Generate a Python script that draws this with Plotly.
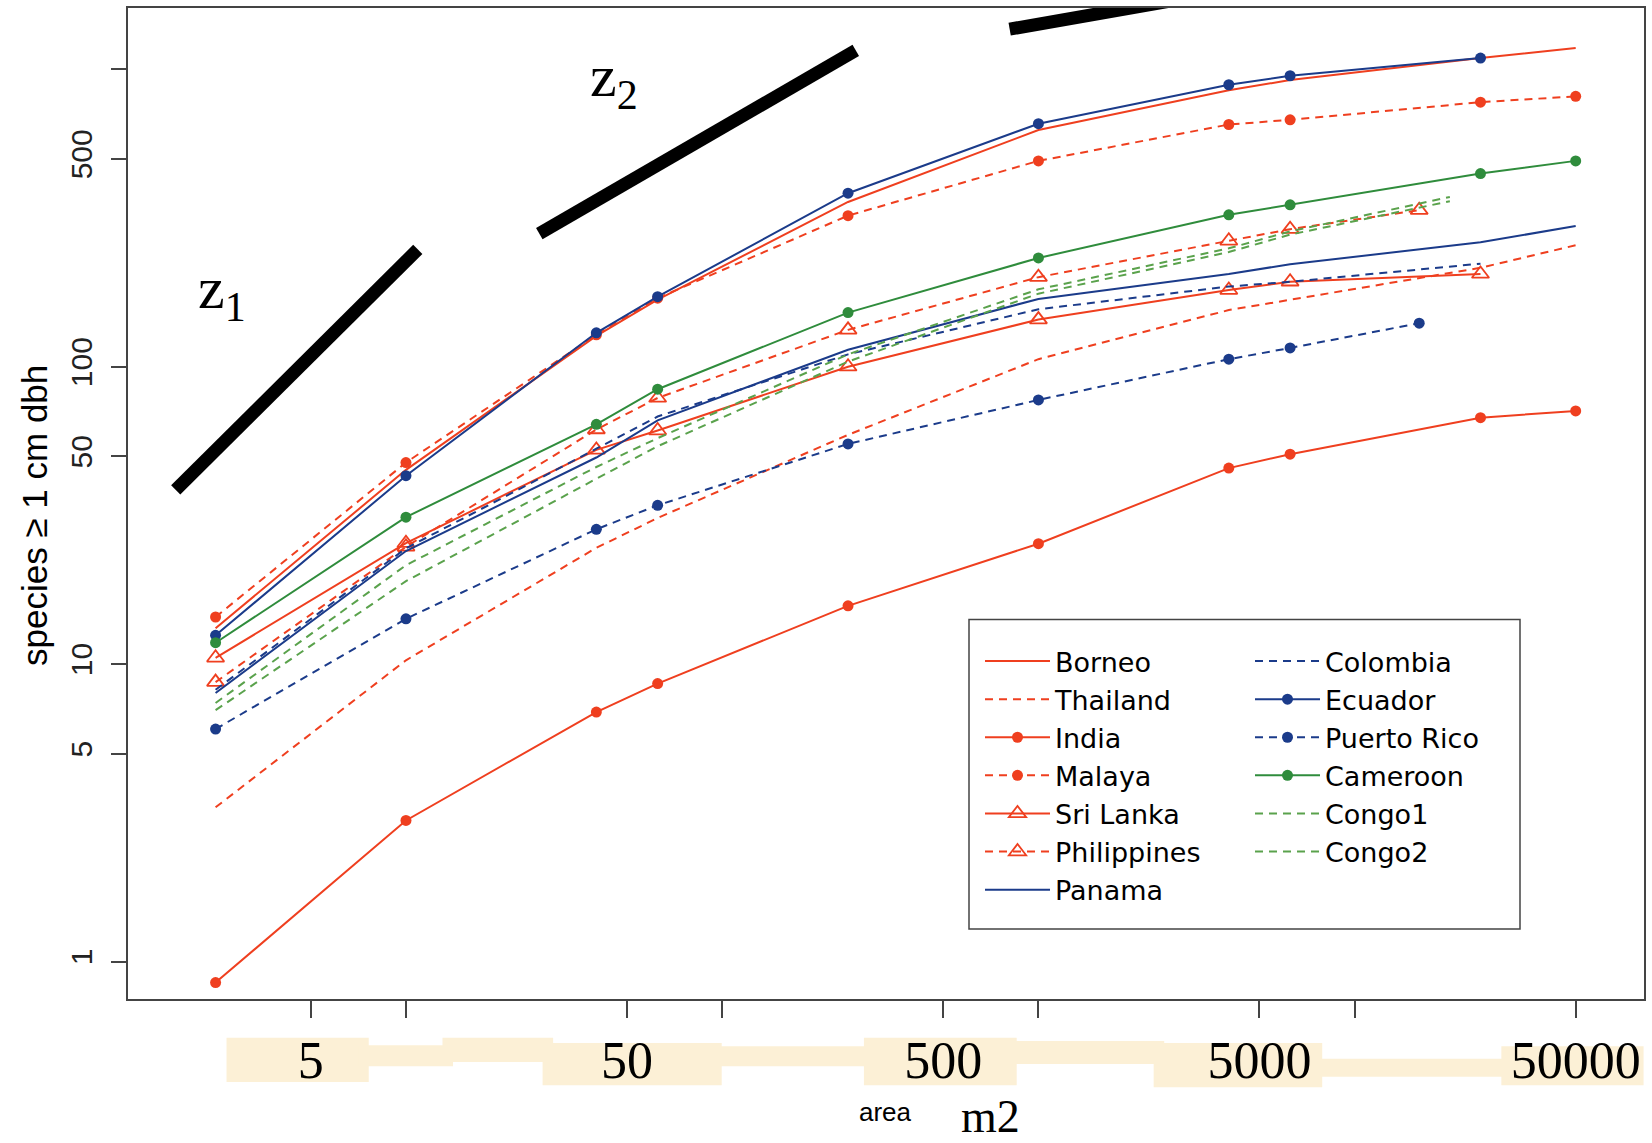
import math
import plotly.graph_objects as go

# ---------------- data ----------------
AREA = [2.5, 10, 40, 62.5, 250, 1000, 4000, 6250, 25000, 50000]
AREA_25K = [2.5, 10, 40, 62.5, 250, 1000, 4000, 6250, 25000]
AREA_16K = [2.5, 10, 40, 62.5, 250, 1000, 4000, 6250, 16000]
AREA_20K = [2.5, 10, 40, 62.5, 250, 1000, 4000, 6250, 20000]

borneo = [13.2, 45, 127, 168, 358, 625, 850, 920, 1091, 1178]
thailand = [3.3, 10.3, 24.6, 31.0, 59, 106, 155, 168, 215, 256]
india = [0.85, 2.98, 6.9, 8.6, 15.7, 25.4, 45.6, 50.8, 67.4, 71]
malaya = [14.4, 47.6, 128, 170, 322, 492, 652, 676, 775, 811]
sri_lanka = [10.5, 25.5, 52.5, 61, 100, 144, 181, 193, 205]
philippines = [8.7, 24.8, 61.5, 78.5, 133, 200, 265, 290, 336]
panama = [8.0, 24.0, 49.5, 66, 114, 169, 205, 221, 262, 297]
colombia = [8.2, 24.5, 53, 68, 110, 156, 186, 193, 222]
ecuador = [12.5, 43, 130, 172, 383, 656, 887, 951, 1091]
puerto_rico = [6.05, 14.2, 28.4, 34.2, 55, 77.3, 106, 115.6, 140]
cameroon = [11.8, 31.2, 64, 84, 152, 232, 324, 350, 446, 492]
congo1 = [7.4, 21.5, 46, 57.5, 110, 182, 250, 285, 372]
congo2 = [7.0, 19.0, 42, 54, 104, 176, 243, 278, 360]

# reference slope lines (area, species)
z1_area = [1.87, 10.9]
z1_species = [38.5, 248]
z2_area = [26.4, 264.5]
z2_species = [280, 1158]
z3_area = [811, 2770]
z3_species = [1364, 1714]

x_tickvals = [5, 50, 500, 5000, 50000]
x_ticktext = ["5", "50", "500", "5000", "50000"]
x_minor_tickvals = [10, 100, 1000, 10000]
y_tickvals = [1, 5, 10, 50, 100, 500]
y_ticktext = ["1", "5", "10", "50", "100", "500"]
y_minor_tickvals = [1000]

# ---------------- style ----------------
RED = "#ef3f1f"
BLUE = "#1b3b8a"
GREEN = "#2f8c3c"
LGREEN = "#5aa24c"
DASH = "8px,6px"

W, H = 1652, 1143
ML, MR, MT, MB = 128, 8, 8, 144
PW, PH = W - ML - MR, H - MT - MB


def px(x):
    return (x - ML) / PW


def py(y):
    return (H - MB - y) / PH


S = 1652 / 1568  # shown -> full pixel factor

fig = go.Figure()

# slope reference lines
for xa, ya in [(z1_area, z1_species), (z2_area, z2_species), (z3_area, z3_species)]:
    fig.add_trace(go.Scatter(x=xa, y=ya, mode="lines", showlegend=False,
                             line=dict(color="black", width=13), hoverinfo="skip"))


def add(name, x, y, color, dash="solid", marker=None, legend="legend"):
    mode = "lines+markers" if marker else "lines"
    kw = dict(x=x, y=y, name=name, mode=mode, legend=legend,
              line=dict(color=color, width=2, dash=dash))
    if marker == "dot":
        kw["marker"] = dict(symbol="circle", size=11, color=color)
    elif marker == "tri":
        kw["marker"] = dict(symbol="triangle-up-open", size=15, color=color,
                            line=dict(width=1.8, color=color))
    fig.add_trace(go.Scatter(**kw))


add("Borneo", AREA, borneo, RED)
add("Thailand", AREA, thailand, RED, DASH)
add("India", AREA, india, RED, marker="dot")
add("Malaya", AREA, malaya, RED, DASH, marker="dot")
add("Sri Lanka", AREA_25K, sri_lanka, RED, marker="tri")
add("Philippines", AREA_16K, philippines, RED, DASH, marker="tri")
add("Panama", AREA, panama, BLUE)
add("Colombia", AREA_25K, colombia, BLUE, DASH, legend="legend2")
add("Ecuador", AREA_25K, ecuador, BLUE, marker="dot", legend="legend2")
add("Puerto Rico", AREA_16K, puerto_rico, BLUE, DASH, marker="dot", legend="legend2")
add("Cameroon", AREA, cameroon, GREEN, marker="dot", legend="legend2")
add("Congo1", AREA_20K, congo1, LGREEN, DASH, legend="legend2")
add("Congo2", AREA_20K, congo2, LGREEN, DASH, legend="legend2")

shapes = []
# legend box
shapes.append(dict(type="rect", xref="paper", yref="paper", layer="above",
                   x0=px(969), x1=px(1520), y0=py(929), y1=py(619.5),
                   fillcolor="white", line=dict(color="#444", width=1.5)))
# pale highlighter band behind x labels (shown px boxes)
band = [(215, 985, 350, 1027), (340, 992, 430, 1012), (420, 985, 525, 1008),
        (515, 990, 685, 1030), (675, 993, 830, 1012), (820, 985, 965, 1030),
        (955, 988, 1105, 1010), (1095, 990, 1255, 1032), (1245, 1005, 1440, 1022),
        (1425, 993, 1560, 1030)]
for x0, y0, x1, y1 in band:
    shapes.append(dict(type="rect", xref="paper", yref="paper", layer="below",
                       x0=px(x0 * S), x1=px(x1 * S), y0=py(y1 * S), y1=py(y0 * S),
                       fillcolor="#fcf0d6", line=dict(width=0)))

annotations = [
    dict(text="z<sub>1</sub>", xref="x", yref="y", x=math.log10(2.17), y=math.log10(178),
         xanchor="left", yanchor="middle", showarrow=False,
         font=dict(family="Liberation Serif", size=60, color="black")),
    dict(text="z<sub>2</sub>", xref="x", yref="y", x=math.log10(37.6), y=math.log10(920),
         xanchor="left", yanchor="middle", showarrow=False,
         font=dict(family="Liberation Serif", size=60, color="black")),
    dict(text="species \u2265 1 cm dbh", xref="paper", yref="paper", x=px(34), y=py(516),
         textangle=-90, showarrow=False, xanchor="center", yanchor="middle",
         font=dict(family="Liberation Sans", size=35, color="black")),
    dict(text="area", xref="paper", yref="paper", x=px(885), y=py(1112),
         showarrow=False, xanchor="center", yanchor="middle",
         font=dict(family="Liberation Sans", size=26, color="black")),
    dict(text="m2", xref="paper", yref="paper", x=px(990), y=py(1116),
         showarrow=False, xanchor="center", yanchor="middle",
         font=dict(family="Liberation Serif", size=46, color="black")),
]

legend_common = dict(bgcolor="rgba(0,0,0,0)", borderwidth=0, itemwidth=65,
                     font=dict(family="DejaVu Sans", size=27, color="black"),
                     xanchor="left", yanchor="top", tracegroupgap=0,
                     itemclick=False, itemdoubleclick=False)

fig.update_layout(
    width=W, height=H,
    margin=dict(l=ML, r=MR, t=MT, b=MB, autoexpand=False),
    paper_bgcolor="white", plot_bgcolor="white",
    showlegend=True,
    legend=dict(x=px(980), y=py(637), **legend_common),
    legend2=dict(x=px(1250), y=py(637), **legend_common),
    shapes=shapes, annotations=annotations,
    xaxis=dict(type="log", range=[0.121, 4.915], tickvals=x_tickvals, ticktext=x_ticktext,
               ticks="outside", ticklen=17, tickwidth=1.5, tickcolor="#444",
               minor=dict(tickvals=x_minor_tickvals, ticks="outside", ticklen=17,
                          tickwidth=1.5, tickcolor="#444", showgrid=False),
               showline=True, linecolor="#444", linewidth=1.5, mirror=True,
               showgrid=False, zeroline=False, ticklabelstandoff=-2,
               tickfont=dict(family="Liberation Serif", size=52, color="black")),
    yaxis=dict(type="log", range=[-0.126, 3.206], tickvals=y_tickvals, ticktext=y_ticktext,
               ticks="outside", ticklen=15, tickwidth=1.5, tickcolor="#444", tickangle=-90,
               minor=dict(tickvals=y_minor_tickvals, ticks="outside", ticklen=15,
                          tickwidth=1.5, tickcolor="#444", showgrid=False),
               showline=True, linecolor="#444", linewidth=1.5, mirror=True,
               showgrid=False, zeroline=False, ticklabelstandoff=7,
               tickfont=dict(family="Liberation Sans", size=30, color="#222")),
)

fig.write_html("out.html")
